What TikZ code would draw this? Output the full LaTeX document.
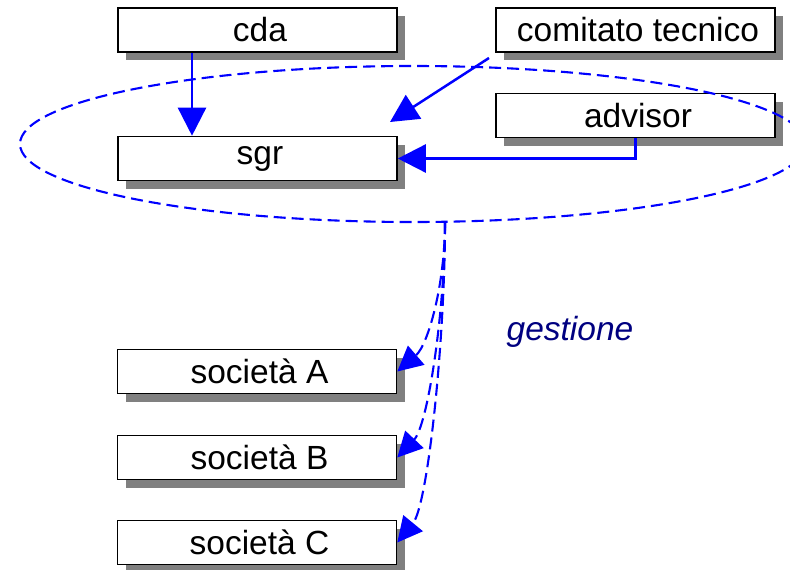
\documentclass[tikz,border=0pt]{standalone}
\usepackage{fontspec}
\setmainfont{Liberation Sans}
\usetikzlibrary{arrows.meta,shadows}
\definecolor{shgray}{HTML}{808080}
\definecolor{navy}{HTML}{000080}
\begin{document}
\begin{tikzpicture}[x=1pt,y=-1pt,
  box/.style={draw=black,line width=1.6pt,fill=white,minimum width=279pt,minimum height=44pt,inner sep=0pt,
    font=\fontsize{33.5}{38}\selectfont,
    drop shadow={shadow xshift=8pt,shadow yshift=-8pt,fill=shgray,opacity=1}},
  arr/.style={draw=blue,line width=2.5pt,-{Triangle[length=28pt,width=28pt,fill=blue]}},
  darr/.style={draw=blue,line width=2.1pt,dash pattern=on 12pt off 6pt,-{Triangle[length=25pt,width=25pt,fill=blue]}},
  ell/.style={draw=blue,line width=2.1pt,dash pattern=on 12pt off 6pt}]
\useasboundingbox (0,0) rectangle (790,570);
\node[box] (cda) at (257.5,30) {\hspace*{5pt}cda};
\node[box] (sgr) at (257.5,158.5) {\hspace*{5pt}sgr};
\node[box] (ct) at (635.5,30) {\hspace*{5pt}comitato tecnico};
\node[box] (adv) at (635.5,115.5) {\hspace*{5pt}advisor};
\node[box] (sa) at (257,371.5) {\hspace*{5pt}società A};
\node[box] (sb) at (257,457.5) {\hspace*{5pt}società B};
\node[box] (sc) at (257,542.5) {\hspace*{5pt}società C};
\node[font=\fontsize{33.5}{38}\selectfont\itshape,text=navy] (gest) at (570,332) {gestione};
\begin{scope}
\clip (0,0) rectangle (790,570);
\draw[ell] (413,144) ellipse [x radius=393, y radius=78];
\end{scope}
\coordinate (cx) at (192,0);
\draw[arr] (cx |- cda.south) -- (cx |- sgr.north);
\coordinate (ctstart) at (489,58);
\coordinate (ctend) at (390,122);
\draw[arr] (ctstart) -- (ctend);
\draw[arr] (adv.south) |- (sgr.east);
\coordinate (g) at (445,222);
\draw[darr] (g) .. controls (445,285) and (428,345) .. (sa.east);
\draw[darr] (g) .. controls (445,310) and (428,425) .. (sb.east);
\draw[darr] (g) .. controls (445,340) and (428,505) .. (sc.east);
\end{tikzpicture}
\end{document}
